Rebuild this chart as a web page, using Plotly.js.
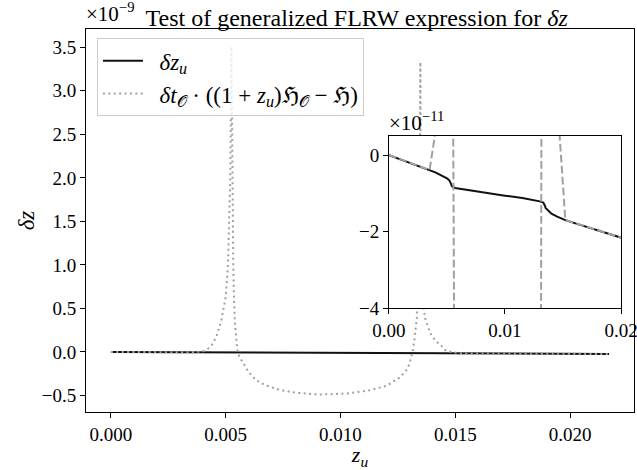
<!DOCTYPE html>
<html>
<head>
<meta charset="utf-8">
<script src="https://cdn.plot.ly/plotly-3.0.1.min.js"></script>
<style>html,body{margin:0;padding:0;background:#fff;}#chart{width:637px;height:470px;}</style>
</head>
<body>
<div id="chart"></div>
<script>
// Values of delta z are in units of 1e-11
const zu_line = [0, 0.001, 0.002, 0.003, 0.0035, 0.004, 0.0045, 0.0048, 0.005, 0.0052, 0.0053, 0.00535, 0.0054, 0.0055, 0.0057, 0.0065, 0.0078, 0.0087, 0.010, 0.0115, 0.0125, 0.013, 0.0133, 0.0134, 0.01345, 0.0135, 0.0137, 0.014, 0.0145, 0.0152, 0.016, 0.017, 0.018, 0.019, 0.02, 0.0217];
const dz_u = [0, -0.11, -0.22, -0.33, -0.39, -0.45, -0.53, -0.57, -0.61, -0.66, -0.70, -0.75, -0.80, -0.83, -0.86, -0.90, -0.96, -1.00, -1.06, -1.12, -1.17, -1.21, -1.24, -1.28, -1.33, -1.38, -1.45, -1.53, -1.61, -1.70, -1.78, -1.88, -1.97, -2.07, -2.16, -2.32];

const zu_dt = [0, 0.001, 0.002, 0.003, 0.0035, 0.0040, 0.0042, 0.0044, 0.0046, 0.0048, 0.0050, 0.0051, 0.0052, 0.00525, 0.0053, 0.00533, 0.00536, 0.0054, 0.0055, 0.0056, 0.0057, 0.0058, 0.0060, 0.0063, 0.0067, 0.0074, 0.0081, 0.0091, 0.0103, 0.0112, 0.0120, 0.0126, 0.0129, 0.0130, 0.0131, 0.01315, 0.0132, 0.01333, 0.0134, 0.01345, 0.01348, 0.0135, 0.01355, 0.0136, 0.01367, 0.0139, 0.01413, 0.0144, 0.0146, 0.0152, 0.016, 0.017, 0.018, 0.019, 0.02, 0.0217];
const dt_term = [0, -0.11, -0.22, -0.33, -0.39, 0.6, 3, 8, 18, 35, 63, 100, 200, 351, 150, 100, 63, 35, 3, -6, -10, -14, -23, -32, -38, -44, -47, -49, -47.7, -44.5, -39, -29, -20, -14, -5, 1, 10, 40, 100, 200, 333, 180, 100, 60, 40, 22, 13, 7, 1, -1.70, -1.78, -1.88, -1.97, -2.07, -2.16, -2.32];

const mainXTicks = [0, 0.005, 0.01, 0.015, 0.02];
const mainYTicks = [-0.5, 0, 0.5, 1, 1.5, 2, 2.5, 3, 3.5];
const insetXTicks = [0, 0.01, 0.02];
const insetYTicks = [-4, -2, 0];

const legendNames = [
  '\u00A0\u00A0<i>δz</i><sub><i>u</i></sub>',
  '\u00A0\u00A0<i>δt</i><sub>𝒪</sub> · ((1 + <i>z</i><sub><i>u</i></sub>)ℌ<sub>𝒪</sub> − ℌ)'
];

const toMain = v => v.map(d => d / 100); // 1e-11 -> 1e-9 units

const FONT = 'Liberation Serif, DejaVu Serif, serif';
const GRAY = '#a0a0a0';

const traces = [
  {x: zu_line, y: toMain(dz_u), xaxis: 'x', yaxis: 'y', mode: 'lines', name: legendNames[0],
   line: {color: '#111111', width: 2}},
  {x: zu_dt, y: toMain(dt_term), xaxis: 'x', yaxis: 'y', mode: 'lines', name: legendNames[1],
   line: {color: GRAY, width: 2, dash: '2px,3.4px'}},
  {x: zu_line, y: dz_u, xaxis: 'x2', yaxis: 'y2', mode: 'lines', showlegend: false,
   line: {color: '#111111', width: 2}},
  {x: zu_dt, y: dt_term, xaxis: 'x2', yaxis: 'y2', mode: 'lines', showlegend: false,
   line: {color: GRAY, width: 2, dash: '7.7px,3.3px'}}
];

const axisCommon = {
  showgrid: false, zeroline: false, showline: true, linecolor: '#000', linewidth: 1,
  ticks: 'outside', ticklen: 5, tickwidth: 1, tickcolor: '#000',
  ticklabeloverflow: 'allow',
  tickfont: {family: FONT, size: 19, color: '#000'}
};

const layout = {
  width: 637, height: 470,
  margin: {l: 86, r: 3, t: 29, b: 58, pad: 0},
  paper_bgcolor: '#fff', plot_bgcolor: '#fff',
  font: {family: FONT, color: '#000'},
  title: {text: 'Test of generalized FLRW expression for <i>δz</i>',
          font: {family: FONT, size: 24, color: '#000'},
          xref: 'paper', x: 0.494, xanchor: 'center',
          yref: 'paper', y: 1, yanchor: 'bottom', pad: {b: 3}},
  xaxis: Object.assign({}, axisCommon, {
    domain: [0, 1], anchor: 'y', mirror: true,
    range: [-0.001085, 0.022785], tickvals: mainXTicks, tickformat: '.3f',
    title: {text: '<i>z</i><sub><i>u</i></sub>', font: {family: FONT, size: 22}, standoff: 14}
  }),
  yaxis: Object.assign({}, axisCommon, {
    domain: [0, 1], anchor: 'x', mirror: true,
    range: [-0.69, 3.71], tickvals: mainYTicks, tickformat: '.1f',
    title: {text: '<i>δz</i>', font: {family: FONT, size: 23}, standoff: 0}
  }),
  xaxis2: Object.assign({}, axisCommon, {
    domain: [0.5529, 0.9763], anchor: 'y2', mirror: true,
    range: [0, 0.02], tickvals: insetXTicks, tickformat: '.2f'
  }),
  yaxis2: Object.assign({}, axisCommon, {
    domain: [0.2715, 0.7206], anchor: 'x2', mirror: true,
    range: [-4, 0.5], tickvals: insetYTicks, tickformat: 'd'
  }),
  legend: {x: 0.02, y: 0.976, xanchor: 'left', yanchor: 'top',
           bgcolor: 'rgba(255,255,255,0.8)', bordercolor: '#cccccc', borderwidth: 1,
           itemwidth: 40,
           font: {family: FONT, size: 23, color: '#000'}, tracegroupgap: 0},
  showlegend: true,
  annotations: [
    {text: '×10<sup>−9</sup>', xref: 'paper', yref: 'paper', x: 0, y: 1,
     xanchor: 'left', yanchor: 'bottom', showarrow: false, yshift: 1, xshift: -2,
     font: {family: FONT, size: 21, color: '#000'}},
    {text: '×10<sup>−11</sup>', xref: 'x2 domain', yref: 'y2 domain', x: 0, y: 1,
     xanchor: 'left', yanchor: 'bottom', showarrow: false, yshift: -1, xshift: -2,
     font: {family: FONT, size: 21, color: '#000'}}
  ]
};

Plotly.newPlot('chart', traces, layout, {staticPlot: true, displayModeBar: false});
</script>
</body>
</html>
